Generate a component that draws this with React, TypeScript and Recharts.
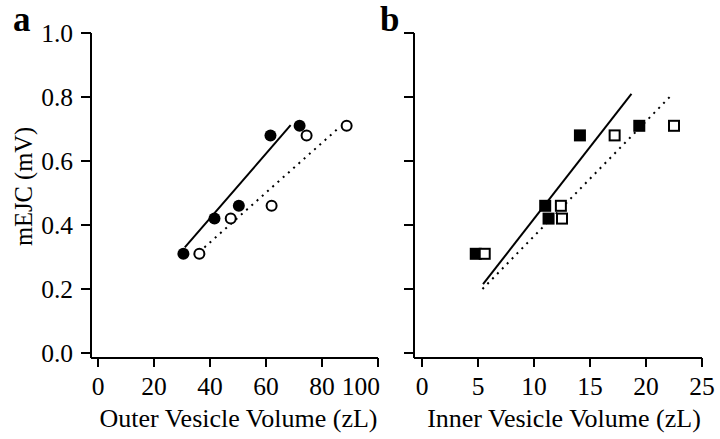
import React from 'react';
import { ScatterChart, Scatter, XAxis, YAxis } from 'recharts';

const FONT = "'Liberation Serif', 'Times New Roman', Times, serif";

// tick values
const yTicks = [0, 0.2, 0.4, 0.6, 0.8, 1.0];
const outerTicks = [0, 20, 40, 60, 80, 100];
const innerTicks = [0, 5, 10, 15, 20, 25];

// panel a: outer vesicle volume (zL) vs mEJC (mV)
const outerFilled = [
  { x: 30.5, y: 0.31 },
  { x: 41.6, y: 0.42 },
  { x: 50.3, y: 0.46 },
  { x: 61.6, y: 0.68 },
  { x: 72.0, y: 0.71 },
];
const outerOpen = [
  { x: 36.2, y: 0.31 },
  { x: 47.4, y: 0.42 },
  { x: 62.0, y: 0.46 },
  { x: 74.5, y: 0.68 },
  { x: 88.8, y: 0.71 },
];
const outerFilledFit = [
  { x: 31.0, y: 0.33 },
  { x: 68.8, y: 0.712 },
];
const outerOpenFit = [
  { x: 38.0, y: 0.33 },
  { x: 85.8, y: 0.702 },
];

// panel b: inner vesicle volume (zL) vs mEJC (mV)
const innerFilled = [
  { x: 4.8, y: 0.31 },
  { x: 11.0, y: 0.46 },
  { x: 11.3, y: 0.42 },
  { x: 14.1, y: 0.68 },
  { x: 19.4, y: 0.71 },
];
const innerOpen = [
  { x: 5.6, y: 0.31 },
  { x: 12.4, y: 0.46 },
  { x: 12.5, y: 0.42 },
  { x: 17.2, y: 0.68 },
  { x: 22.5, y: 0.71 },
];
const innerFilledFit = [
  { x: 5.45, y: 0.215 },
  { x: 18.7, y: 0.81 },
];
const innerOpenFit = [
  { x: 5.4, y: 0.2 },
  { x: 22.2, y: 0.803 },
];

const FilledCircle = (p: any) => <circle cx={p.cx} cy={p.cy} r={6} fill="#000" />;
const OpenCircle = (p: any) => (
  <circle cx={p.cx} cy={p.cy} r={5} fill="#fff" stroke="#000" strokeWidth={2} />
);
const FilledSquare = (p: any) => (
  <rect x={p.cx - 6} y={p.cy - 6} width={12} height={12} fill="#000" />
);
const OpenSquare = (p: any) => (
  <rect x={p.cx - 5} y={p.cy - 5} width={10} height={10} fill="#fff" stroke="#000" strokeWidth={2} />
);
const NoDot = () => <g />;

const tickStyle = { fill: '#000', fontSize: 25.5, fontFamily: FONT };
const axisLine = { stroke: '#000', strokeWidth: 2 };
const tickLine = { stroke: '#000', strokeWidth: 2 };

const XLabel = (dx: number, text: string) => (props: any) => {
  const vb = props.viewBox || {};
  return (
    <text
      x={vb.x + vb.width / 2 + dx}
      y={vb.y + 69}
      textAnchor="middle"
      fill="#000"
      fontSize={26}
      fontFamily={FONT}
    >
      {text}
    </text>
  );
};

const YLabel = (props: any) => {
  const vb = props.viewBox || {};
  const cx = 23;
  const cy = vb.y + vb.height / 2 - 9;
  return (
    <text
      x={cx}
      y={cy}
      transform={`rotate(-90, ${cx}, ${cy})`}
      dy={8.5}
      textAnchor="middle"
      fill="#000"
      fontSize={24.5}
      fontFamily={FONT}
    >
      mEJC (mV)
    </text>
  );
};

const letterStyle: React.CSSProperties = {
  position: 'absolute',
  fontFamily: FONT,
  fontWeight: 'bold',
  fontSize: 35,
  lineHeight: '30px',
  color: '#000',
};

export default function App() {
  return (
    <div style={{ position: 'absolute', left: 0, top: 0, width: 720, height: 439, background: '#fff', overflow: 'hidden' }}>
      <div style={{ position: 'absolute', left: 0, top: 0 }}>
        <ScatterChart width={380} height={439} margin={{ top: 33, right: 2, bottom: 14, left: 0 }}>
          <XAxis
            type="number"
            dataKey="x"
            domain={[0, 100]}
            ticks={outerTicks}
            padding={{ left: 7, right: 0 }}
            height={67}
            axisLine={axisLine}
            tickLine={tickLine}
            tickSize={9}
            tickMargin={10}
            tick={tickStyle}
            label={{ content: XLabel(4, 'Outer Vesicle Volume (zL)') }}
          />
          <YAxis
            type="number"
            dataKey="y"
            domain={[0, 1]}
            ticks={yTicks}
            padding={{ top: 0, bottom: 5 }}
            width={91}
            axisLine={axisLine}
            tickLine={tickLine}
            tickSize={10}
            tickMargin={8}
            tick={tickStyle}
            tickFormatter={(v: number) => v.toFixed(1)}
            label={{ content: YLabel }}
          />
          <Scatter data={outerFilledFit} shape={NoDot} line={{ stroke: '#000', strokeWidth: 2 }} isAnimationActive={false} />
          <Scatter data={outerOpenFit} shape={NoDot} line={{ stroke: '#000', strokeWidth: 2, strokeDasharray: '2 5' }} isAnimationActive={false} />
          <Scatter data={outerFilled} shape={FilledCircle} isAnimationActive={false} />
          <Scatter data={outerOpen} shape={OpenCircle} isAnimationActive={false} />
        </ScatterChart>
      </div>
      <div style={{ position: 'absolute', left: 380, top: 0 }}>
        <ScatterChart width={340} height={439} margin={{ top: 33, right: 18, bottom: 14, left: 0 }}>
          <XAxis
            type="number"
            dataKey="x"
            domain={[0, 25]}
            ticks={innerTicks}
            padding={{ left: 8, right: 0 }}
            height={67}
            axisLine={axisLine}
            tickLine={tickLine}
            tickSize={9}
            tickMargin={10}
            tick={tickStyle}
            label={{ content: XLabel(6, 'Inner Vesicle Volume (zL)') }}
          />
          <YAxis
            type="number"
            dataKey="y"
            domain={[0, 1]}
            ticks={yTicks}
            padding={{ top: 0, bottom: 5 }}
            width={34}
            axisLine={axisLine}
            tickLine={tickLine}
            tickSize={10}
            tickMargin={8}
            tick={tickStyle}
            tickFormatter={() => ''}
          />
          <Scatter data={innerFilledFit} shape={NoDot} line={{ stroke: '#000', strokeWidth: 2 }} isAnimationActive={false} />
          <Scatter data={innerOpenFit} shape={NoDot} line={{ stroke: '#000', strokeWidth: 2, strokeDasharray: '2 5' }} isAnimationActive={false} />
          <Scatter data={innerFilled} shape={FilledSquare} isAnimationActive={false} />
          <Scatter data={innerOpen} shape={OpenSquare} isAnimationActive={false} />
        </ScatterChart>
      </div>
      <div style={{ ...letterStyle, left: 13, top: 5 }}>a</div>
      <div style={{ ...letterStyle, left: 380, top: 5 }}>b</div>
    </div>
  );
}
